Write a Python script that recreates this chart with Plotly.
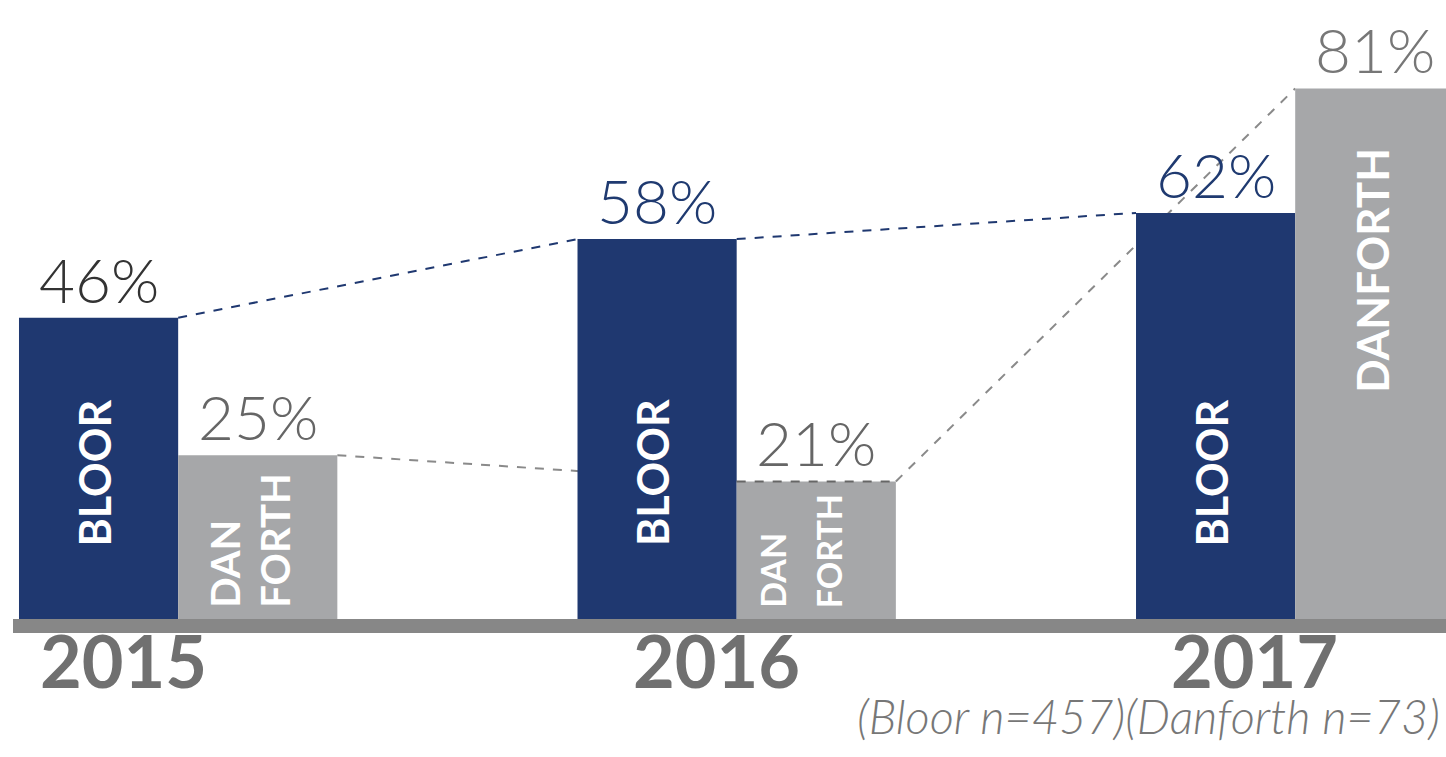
import plotly.graph_objects as go

years = ["2015", "2016", "2017"]
bloor = [46, 58, 62]
danforth = [25, 21, 81]
bloor_labels = ["46%", "58%", "62%"]
danforth_labels = ["25%", "21%", "81%"]
bloor_label_colors = ["#333333", "#1f3a70", "#1f3a70"]
danforth_label_colors = ["#666666", "#666666", "#777777"]
note = "(Bloor n=457)(Danforth n=73)"

NAVY = "#1f3870"
GRAY = "#a6a7a9"
W, H = 1446, 757
BOTTOM = 138
PLOT_H = H - BOTTOM
BARW = 0.285

xs = list(range(len(years)))


def py(pix):
    """paper y from a pixel row measured from the top of the figure"""
    return (PLOT_H - pix) / PLOT_H


fig = go.Figure()
fig.add_trace(go.Bar(x=xs, y=bloor, name="Bloor", marker=dict(color=NAVY, line=dict(width=0)),
                     hoverinfo="skip"))
fig.add_trace(go.Bar(x=xs, y=danforth, name="Danforth", marker=dict(color=GRAY, line=dict(width=0)),
                     hoverinfo="skip"))

shapes = []
for i in range(len(xs) - 1):
    shapes.append(dict(type="line", layer="below", xref="x", yref="y",
                       x0=xs[i], y0=bloor[i], x1=xs[i + 1] - BARW, y1=bloor[i + 1],
                       line=dict(color=NAVY, width=2, dash="dash")))
    shapes.append(dict(type="line", layer="below", xref="x", yref="y",
                       x0=xs[i] + BARW, y0=danforth[i], x1=xs[i + 1], y1=danforth[i + 1],
                       line=dict(color="#8a8a8a", width=2, dash="dash")))
shapes.append(dict(type="line", layer="above", xref="x", yref="y",
                   x0=xs[1], y0=danforth[1], x1=xs[1] + BARW, y1=danforth[1],
                   line=dict(color="#666666", width=2, dash="dash")))
shapes.append(dict(type="rect", xref="paper", yref="paper", x0=13 / W, x1=1,
                   y0=0, y1=-14 / PLOT_H, fillcolor="#878787", line=dict(width=0), layer="above"))

ann = []
LIGHT = "Lato"
for i, x in enumerate(xs):
    ann.append(dict(x=x - BARW / 2, y=bloor[i], xref="x", yref="y", text=bloor_labels[i],
                    showarrow=False, yanchor="bottom", yshift=0,
                    font=dict(family=LIGHT, size=62, color=bloor_label_colors[i], weight=300)))
    ann.append(dict(x=x + BARW / 2, y=danforth[i], xref="x", yref="y", text=danforth_labels[i],
                    showarrow=False, yanchor="bottom", yshift=0,
                    font=dict(family=LIGHT, size=62, color=danforth_label_colors[i], weight=300)))
    ann.append(dict(x=x - BARW / 2, y=py(473), xref="x", yref="paper", text="<b>BLOOR</b>",
                    showarrow=False, textangle=-90, yanchor="middle", xanchor="center", xshift=-5,
                    font=dict(family="Lato", size=43, color="white")))

split_sizes = [40, 34]
split_shift_dan = [-33, -44]
split_shift_forth = [17, 12]
for i in range(2):
    ann.append(dict(x=xs[i] + BARW / 2, y=py(610), xref="x", yref="paper", text="<b>DAN</b>",
                    showarrow=False, textangle=-90, yanchor="bottom", xanchor="center",
                    xshift=split_shift_dan[i],
                    font=dict(family="Lato", size=split_sizes[i], color="white")))
    ann.append(dict(x=xs[i] + BARW / 2, y=py(610), xref="x", yref="paper", text="<b>FORTH</b>",
                    showarrow=False, textangle=-90, yanchor="bottom", xanchor="center",
                    xshift=split_shift_forth[i],
                    font=dict(family="Lato", size=split_sizes[i], color="white")))
ann.append(dict(x=xs[2] + BARW / 2, y=py(270), xref="x", yref="paper", text="<b>DANFORTH</b>",
                showarrow=False, textangle=-90, yanchor="middle", xanchor="center", xshift=-3,
                font=dict(family="Lato", size=44, color="white")))

year_offsets = [-0.098, -0.036, -0.073]
for i, x in enumerate(xs):
    ann.append(dict(x=x + year_offsets[i], y=py(660), xref="x", yref="paper",
                    text="<b>" + years[i] + "</b>", showarrow=False, yanchor="middle",
                    font=dict(family="Lato", size=72, color="#707070")))

ann.append(dict(x=1, y=py(716), xref="paper", yref="paper", xanchor="right", xshift=-4,
                yanchor="middle", text="<i>" + note + "</i>", showarrow=False,
                font=dict(family=LIGHT, size=47, color="#777777", weight=300)))

fig.update_layout(
    width=W, height=H,
    margin=dict(l=0, r=0, t=0, b=BOTTOM),
    barmode="group", bargap=0.43, bargroupgap=0,
    plot_bgcolor="white", paper_bgcolor="white",
    showlegend=False,
    xaxis=dict(range=[-0.319, 2.270], showgrid=False, zeroline=False, showticklabels=False,
               ticks="", showline=False),
    yaxis=dict(range=[0, PLOT_H / 6.55], showgrid=False, zeroline=False, showticklabels=False,
               ticks="", showline=False),
    shapes=shapes, annotations=ann,
)

fig.write_html("out.html")
